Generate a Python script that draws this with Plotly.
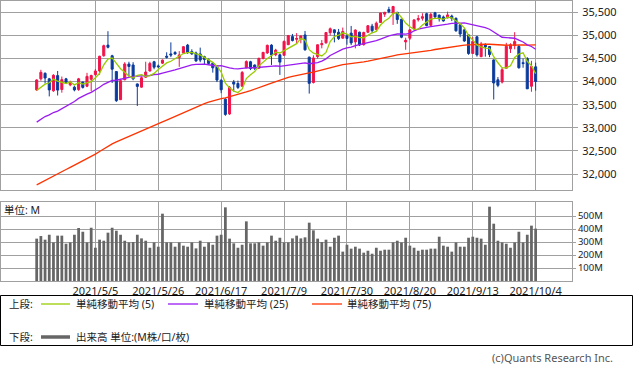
import plotly.graph_objects as go

dates = [
    "2021/4/15", "2021/4/16", "2021/4/19", "2021/4/20", "2021/4/21", "2021/4/22", "2021/4/23",
    "2021/4/26", "2021/4/27", "2021/4/28", "2021/4/29", "2021/4/30",
    "2021/5/3", "2021/5/4", "2021/5/5", "2021/5/6", "2021/5/7", "2021/5/10", "2021/5/11", "2021/5/12",
    "2021/5/13", "2021/5/14", "2021/5/17", "2021/5/18", "2021/5/19", "2021/5/20", "2021/5/21",
    "2021/5/24", "2021/5/25", "2021/5/26", "2021/5/27", "2021/5/28",
    "2021/6/1", "2021/6/2", "2021/6/3", "2021/6/4", "2021/6/7", "2021/6/8", "2021/6/9", "2021/6/10",
    "2021/6/11", "2021/6/14", "2021/6/15", "2021/6/16", "2021/6/17", "2021/6/18", "2021/6/21",
    "2021/6/22", "2021/6/23", "2021/6/24", "2021/6/25", "2021/6/28", "2021/6/29", "2021/6/30",
    "2021/7/1", "2021/7/2", "2021/7/6", "2021/7/7", "2021/7/8", "2021/7/9", "2021/7/12", "2021/7/13",
    "2021/7/14", "2021/7/15", "2021/7/16", "2021/7/19", "2021/7/20", "2021/7/21", "2021/7/22",
    "2021/7/23", "2021/7/26", "2021/7/27", "2021/7/28", "2021/7/29", "2021/7/30",
    "2021/8/2", "2021/8/3", "2021/8/4", "2021/8/5", "2021/8/6", "2021/8/9", "2021/8/10", "2021/8/11",
    "2021/8/12", "2021/8/13", "2021/8/16", "2021/8/17", "2021/8/18", "2021/8/19", "2021/8/20",
    "2021/8/23", "2021/8/24", "2021/8/25", "2021/8/26", "2021/8/27", "2021/8/30", "2021/8/31",
    "2021/9/1", "2021/9/2", "2021/9/3", "2021/9/7", "2021/9/8", "2021/9/9", "2021/9/10", "2021/9/13",
    "2021/9/14", "2021/9/15", "2021/9/16", "2021/9/17", "2021/9/20", "2021/9/21", "2021/9/22",
    "2021/9/23", "2021/9/24", "2021/9/27", "2021/9/28", "2021/9/29", "2021/9/30",
    "2021/10/1", "2021/10/4",
]

open_ = [
    33820, 34060, 34180, 34060, 33800, 34130, 33830, 34060, 33930, 33880,
    33830, 33990, 33900, 34050, 34150, 34230, 34560, 34790, 34560, 34217,
    33610, 34040, 34380, 34360, 33950, 33880, 34095, 34230, 34430, 34340,
    34400, 34550, 34600, 34630, 34520, 34620, 34790, 34650, 34620, 34600,
    34540, 34470, 34400, 34320, 34030, 33620, 33300, 33990, 33960, 33900,
    34300, 34430, 34360, 34290, 34500, 34620, 34790, 34580, 34580, 34570,
    34800, 34975, 34915, 34925, 35010, 34530, 33980, 34540, 34800, 34840,
    35060, 35120, 35070, 34940, 34990, 35050, 34860, 35070, 34800, 35070,
    35200, 35130, 35280, 35460, 35560, 35480, 35500, 35350, 34860, 34940,
    35140, 35340, 35370, 35470, 35220, 35490, 35440, 35400, 35380, 35420,
    35370, 35230, 35120, 35010, 34610, 34970, 34540, 34790, 34760, 34470,
    34040, 33990, 34290, 34710, 34780, 34760, 34410, 34500, 33900, 34320,
]
high = [
    34050, 34256, 34200, 34080, 34160, 34230, 34110, 34080, 34020, 33910,
    34080, 34000, 34190, 34150, 34270, 34560, 34800, 35091, 34580, 34230,
    34060, 34420, 34430, 34420, 33960, 34110, 34430, 34430, 34450, 34370,
    34480, 34635, 34849, 34660, 34660, 34770, 34816, 34700, 34650, 34736,
    34560, 34500, 34420, 34350, 34050, 33640, 33900, 34036, 34022, 34230,
    34460, 34450, 34370, 34520, 34640, 34800, 34810, 34710, 34600, 34890,
    35010, 35032, 35050, 35000, 35097, 34540, 34570, 34800, 34900, 35075,
    35171, 35130, 35140, 35170, 35030, 35205, 35130, 35080, 35080, 35225,
    35250, 35300, 35490, 35510, 35620, 35640, 35510, 35360, 34950, 35140,
    35350, 35440, 35480, 35490, 35490, 35510, 35450, 35430, 35515, 35450,
    35390, 35240, 35150, 35030, 34964, 34990, 34860, 34830, 34770, 34480,
    34100, 34300, 34840, 34830, 35070, 34800, 34500, 34530, 34450, 34410,
]
low = [
    33800, 34020, 33960, 33680, 33780, 33700, 33760, 33950, 33900, 33790,
    33800, 33850, 33880, 33790, 34130, 34150, 34540, 34720, 33970, 33560,
    33600, 34030, 34110, 34030, 33473, 33870, 34080, 34220, 34267, 34290,
    34380, 34500, 34530, 34580, 34320, 34600, 34600, 34580, 34430, 34420,
    34380, 34370, 34195, 33990, 33750, 33260, 33280, 33783, 33840, 33890,
    34290, 34250, 34250, 34280, 34480, 34600, 34361, 34550, 34145, 34560,
    34790, 34870, 34830, 34830, 34670, 33741, 33960, 34500, 34720, 34820,
    35000, 34850, 34900, 34930, 34800, 34790, 34720, 34770, 34780, 35050,
    35050, 35100, 35270, 35400, 35480, 35227, 35250, 34940, 34690, 34900,
    35120, 35300, 35320, 35200, 35200, 35380, 35300, 35300, 35370, 35310,
    35080, 34960, 34860, 34580, 34600, 34540, 34530, 34540, 34530, 33613,
    33880, 33960, 34280, 34620, 34700, 34280, 34300, 33840, 33780, 33805,
]
close = [
    34036, 34201, 34078, 33821, 34137, 33816, 34043, 33982, 33985, 33820,
    34060, 33875, 34113, 34133, 34230, 34549, 34778, 34743, 34269, 33588,
    34021, 34382, 34328, 34061, 33896, 34084, 34208, 34394, 34312, 34323,
    34465, 34529, 34575, 34600, 34577, 34756, 34630, 34600, 34447, 34466,
    34480, 34394, 34299, 34034, 33823, 33290, 33877, 33946, 33874, 34197,
    34434, 34283, 34292, 34503, 34634, 34786, 34577, 34682, 34422, 34870,
    34996, 34889, 34933, 34987, 34688, 33962, 34512, 34798, 34823, 35062,
    35144, 35059, 34931, 35085, 34935, 34838, 35116, 34793, 35064, 35209,
    35102, 35265, 35485, 35500, 35515, 35626, 35343, 34961, 34894, 35120,
    35336, 35366, 35406, 35213, 35456, 35400, 35361, 35313, 35444, 35369,
    35100, 35031, 34879, 34608, 34870, 34578, 34814, 34751, 34585, 33970,
    33920, 34258, 34765, 34798, 34869, 34300, 34391, 33844, 34326, 34003,
]
volume = [
    326, 346, 318, 356, 297, 349, 349, 287, 297, 356,
    408, 379, 297, 410, 256, 318, 310, 372, 410, 387,
    356, 310, 297, 300, 356, 328, 310, 256, 297, 264,
    518, 297, 297, 264, 297, 272, 264, 297, 251, 310,
    264, 297, 279, 349, 356, 567, 326, 290, 256, 279,
    459, 290, 290, 297, 272, 297, 349, 310, 333, 297,
    297, 328, 349, 328, 336, 449, 390, 326, 300, 318,
    264, 333, 349, 226, 279, 249, 264, 249, 218, 233,
    210, 256, 233, 241, 241, 297, 310, 297, 333, 272,
    256, 233, 241, 241, 249, 249, 341, 272, 264, 226,
    297, 264, 264, 333, 341, 333, 326, 279, 572, 441,
    310, 297, 287, 256, 297, 379, 297, 356, 426, 403,
]

# moving-average values at the left edge (window not fully visible)
ma5_head = [33810, 33880, 33945, 33975]
ma25_head = [
    33123, 33192, 33244, 33279, 33331, 33363, 33411, 33465, 33515, 33571, 33637, 33687,
    33729, 33767, 33814, 33877, 33942, 33990, 34024, 34030, 34050, 34074, 34097, 34112,
]
ma75_head = [
    31765, 31815, 31863, 31908, 31957, 32002, 32050, 32097, 32144, 32189,
    32237, 32283, 32332, 32381, 32431, 32486, 32544, 32601, 32652, 32694,
    32732, 32775, 32817, 32856, 32893, 32932, 32973, 33012, 33050, 33088,
    33128, 33168, 33209, 33250, 33290, 33333, 33374, 33415, 33454, 33493,
    33524, 33554, 33583, 33609, 33631, 33647, 33670, 33694, 33718, 33745,
    33776, 33805, 33834, 33865, 33899, 33934, 33967, 34001, 34031, 34068,
    34092, 34114, 34136, 34160, 34179, 34189, 34206, 34227, 34248, 34273,
    34298, 34323, 34345, 34370,
]

tick_labels = ["2021/5/5", "2021/5/26", "2021/6/17", "2021/7/9", "2021/7/30",
               "2021/8/20", "2021/9/13", "2021/10/4"]
price_ticks = [32000, 32500, 33000, 33500, 34000, 34500, 35000, 35500]
vol_ticks = [100, 200, 300, 400, 500]
vol_tick_text = ["100M", "200M", "300M", "400M", "500M"]


def sma(values, n, head):
    out = list(head)
    for i in range(len(head), len(values)):
        out.append(sum(values[i - n + 1:i + 1]) / n)
    return out


x = list(range(len(dates)))
tick_pos = [dates.index(t) for t in tick_labels]
ma5 = sma(close, 5, ma5_head)
ma25 = sma(close, 25, ma25_head)
ma75 = sma(close, 75, ma75_head)

RED = "#f0144b"
BLUE = "#0a3b9c"
GRID = "#a0a0a0"
FONT = "Noto Sans, Noto Sans CJK JP, sans-serif"
C5, C25, C75 = "#99cc00", "#9a1bf2", "#ff3300"

fig = go.Figure()
fig.add_trace(go.Candlestick(
    x=x, open=open_, high=high, low=low, close=close,
    increasing=dict(line=dict(color=RED, width=1), fillcolor=RED),
    decreasing=dict(line=dict(color=BLUE, width=1), fillcolor=BLUE),
    whiskerwidth=0, hoverinfo="skip", xaxis="x", yaxis="y",
))
fig.add_trace(go.Scatter(x=x, y=ma75, mode="lines", line=dict(color=C75, width=1.3),
                         hoverinfo="skip", xaxis="x", yaxis="y"))
fig.add_trace(go.Scatter(x=x, y=ma25, mode="lines", line=dict(color=C25, width=1.3),
                         hoverinfo="skip", xaxis="x", yaxis="y"))
fig.add_trace(go.Scatter(x=x, y=ma5, mode="lines", line=dict(color=C5, width=1.3),
                         hoverinfo="skip", xaxis="x", yaxis="y"))
fig.add_trace(go.Bar(x=x, y=volume, width=0.66, marker=dict(color="#666666", line=dict(width=0)),
                     hoverinfo="skip", xaxis="x2", yaxis="y2"))

W, H = 633, 373
ML, MR, MT, MB = 1, 61, 1, 92
PW, PH = W - ML - MR, H - MT - MB


def px(xp):
    return (xp - ML) / PW


def py(yp):
    return (H - MB - yp) / PH


xrange_ = [-8.51, 127.67]
common_x = dict(range=xrange_, tickvals=tick_pos, showgrid=True, gridcolor=GRID, gridwidth=1,
                showline=True, mirror=True, linecolor=GRID, linewidth=1, zeroline=False,
                fixedrange=True)
common_y = dict(side="right", showgrid=True, gridcolor=GRID, gridwidth=1, showline=True,
                mirror=True, linecolor=GRID, linewidth=1, zeroline=False, ticks="outside",
                tickcolor=GRID, fixedrange=True)

fig.update_layout(
    width=W, height=H, margin=dict(l=ML, r=MR, t=MT, b=MB),
    paper_bgcolor="white", plot_bgcolor="white", showlegend=False,
    font=dict(family=FONT, size=11, color="#222"), boxgap=0.3,
    xaxis=dict(domain=[0, 1], anchor="y", showticklabels=False,
               rangeslider=dict(visible=False), **common_x),
    yaxis=dict(domain=[py(190), 1], anchor="x", range=[31654, 35745], tickvals=price_ticks,
               tickformat=",d", ticklen=5, ticklabelstandoff=2,
               tickfont=dict(size=11, color="#222", family=FONT), **common_y),
    xaxis2=dict(domain=[0, 1], anchor="y2", ticktext=tick_labels, ticks="",
                tickfont=dict(size=11, color="#222", family=FONT), **common_x),
    yaxis2=dict(domain=[0, py(202)], anchor="x2", range=[0, 608], tickvals=vol_ticks,
                ticktext=vol_tick_text, ticklen=3,
                tickfont=dict(size=9.5, color="#222", family=FONT), **common_y),
)

shapes = [
    dict(type="rect", xref="paper", yref="paper", x0=px(0.5), x1=px(632.5), y0=py(295.5), y1=py(345.5),
         line=dict(color="black", width=1), fillcolor="rgba(0,0,0,0)"),
    dict(type="line", xref="paper", yref="paper", x0=px(41), x1=px(70), y0=py(304), y1=py(304),
         line=dict(color=C5, width=1.3)),
    dict(type="line", xref="paper", yref="paper", x0=px(168), x1=px(198), y0=py(304), y1=py(304),
         line=dict(color=C25, width=1.3)),
    dict(type="line", xref="paper", yref="paper", x0=px(312), x1=px(342), y0=py(304), y1=py(304),
         line=dict(color=C75, width=1.3)),
    dict(type="line", xref="paper", yref="paper", x0=px(41), x1=px(70), y0=py(337), y1=py(337),
         line=dict(color="#666666", width=3.5)),
]
fig.update_layout(shapes=shapes)


def note(text, xp, yp, anchor="left", color="#222", size=10.5):
    fig.add_annotation(text=text, x=px(xp), y=py(yp), xref="paper", yref="paper",
                       xanchor=anchor, yanchor="middle", showarrow=False,
                       font=dict(size=size, color=color, family=FONT), borderpad=0)


note("単位: M", 3, 210)
note("上段:", 8, 304)
note("単純移動平均 (5)", 75, 304)
note("単純移動平均 (25)", 203, 304)
note("単純移動平均 (75)", 346, 304)
note("下段:", 8, 337)
note("出来高 単位:(M株/口/枚)", 75, 337)
note("(c)Quants Research Inc.", 614, 357, anchor="right", color="#555", size=11)

fig.write_html("out.html", config={"displayModeBar": False},
               post_script="document.body.style.margin='0';")
